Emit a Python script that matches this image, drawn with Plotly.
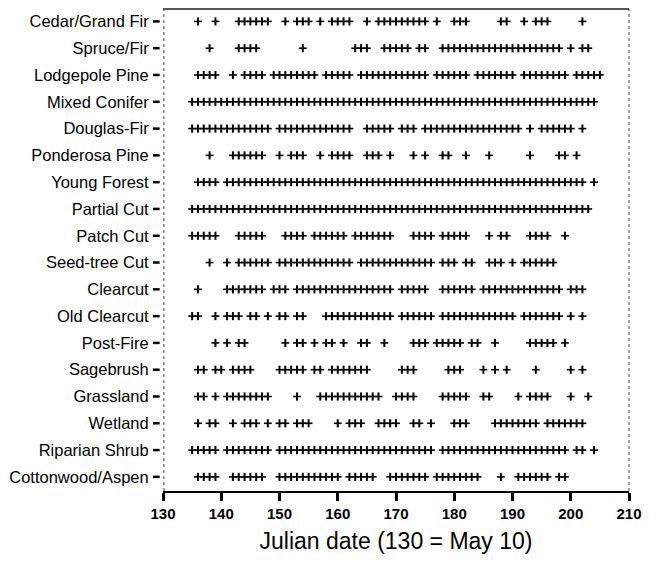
import plotly.graph_objects as go

# Habitat types, top to bottom
habitats = [
    "Cedar/Grand Fir", "Spruce/Fir", "Lodgepole Pine", "Mixed Conifer",
    "Douglas-Fir", "Ponderosa Pine", "Young Forest", "Partial Cut",
    "Patch Cut", "Seed-tree Cut", "Clearcut", "Old Clearcut", "Post-Fire",
    "Sagebrush", "Grassland", "Wetland", "Riparian Shrub", "Cottonwood/Aspen",
]

# Julian dates with records, one list per habitat
cedar_grand_fir = [136, 139, 143, 144, 145, 146, 147, 148, 151, 153, 154, 155, 157, 159, 160, 161, 162,
                   165, 167, 168, 169, 170, 171, 172, 173, 174, 175, 177, 180, 181, 182, 188, 189,
                   192, 194, 195, 196, 202]
spruce_fir = [138, 143, 144, 145, 146, 154, 163, 164, 165, 168, 169, 170, 171, 172, 174, 175,
              178, 179, 180, 181, 182, 183, 184, 185, 186, 187, 188, 189, 190, 191, 192, 193, 194,
              195, 196, 197, 198, 200, 202, 203]
lodgepole_pine = [136, 137, 138, 139, 142, 144, 145, 146, 147, 149, 150, 151, 152, 153, 154, 155, 156,
                  158, 159, 160, 161, 162, 164, 165, 166, 167, 168, 169, 170, 171, 172, 173, 174, 175,
                  177, 178, 179, 180, 181, 182, 184, 185, 186, 187, 188, 189, 190, 192, 193, 194, 195,
                  196, 197, 198, 199, 201, 202, 203, 204, 205]
mixed_conifer = [135, 136, 137, 138, 139, 140, 141, 142, 143, 144, 145, 146, 147, 148, 149, 150, 151,
                 152, 153, 154, 155, 156, 157, 158, 159, 160, 161, 162, 163, 164, 165, 166, 167, 168,
                 169, 170, 171, 172, 173, 174, 175, 176, 177, 178, 179, 180, 181, 182, 183, 184, 185,
                 186, 187, 188, 189, 190, 191, 192, 193, 194, 195, 196, 197, 198, 199, 200, 201, 202,
                 203, 204]
douglas_fir = [135, 136, 137, 138, 139, 140, 141, 142, 143, 144, 145, 146, 147, 148, 150, 151, 152,
               153, 154, 155, 156, 157, 158, 159, 160, 161, 162, 165, 166, 167, 168, 169, 171, 172,
               173, 175, 176, 177, 178, 179, 180, 181, 182, 183, 184, 185, 186, 187, 188, 189, 190,
               191, 193, 195, 196, 197, 198, 199, 200, 202]
ponderosa_pine = [138, 142, 143, 144, 145, 146, 147, 150, 152, 153, 154, 157, 159, 160, 161, 162,
                  165, 166, 167, 169, 173, 175, 178, 179, 182, 186, 193, 198, 199, 201]
young_forest = [136, 137, 138, 139, 141, 142, 143, 144, 145, 146, 147, 148, 149, 150, 151, 152, 153,
                154, 155, 156, 157, 158, 159, 160, 161, 162, 163, 164, 165, 166, 167, 168, 169, 170,
                171, 172, 173, 174, 175, 176, 177, 178, 179, 180, 181, 182, 183, 184, 185, 186, 187,
                188, 189, 190, 191, 192, 193, 194, 195, 196, 197, 198, 199, 200, 201, 202, 204]
partial_cut = [135, 136, 137, 138, 139, 140, 141, 142, 143, 144, 145, 146, 147, 148, 149, 150, 151,
               152, 153, 154, 155, 156, 157, 158, 159, 160, 161, 162, 163, 164, 165, 166, 167, 168,
               169, 170, 171, 172, 173, 174, 175, 176, 177, 178, 179, 180, 181, 182, 183, 184, 185,
               186, 187, 188, 189, 190, 191, 192, 193, 194, 195, 196, 197, 198, 199, 200, 201, 202,
               203]
patch_cut = [135, 136, 137, 138, 139, 143, 144, 145, 146, 147, 151, 152, 153, 154, 156, 157, 158,
             159, 160, 161, 163, 164, 165, 166, 167, 168, 169, 173, 174, 175, 176, 178, 179, 180,
             181, 182, 186, 188, 189, 193, 194, 195, 196, 199]
seed_tree_cut = [138, 141, 143, 144, 145, 146, 147, 148, 150, 151, 152, 153, 154, 155, 156, 157, 158,
                 159, 160, 161, 162, 164, 165, 166, 167, 168, 169, 170, 171, 172, 173, 174, 175, 176,
                 178, 179, 180, 182, 183, 186, 187, 188, 190, 192, 193, 194, 195, 196, 197]
clearcut = [136, 141, 142, 143, 144, 145, 146, 147, 149, 150, 151, 153, 154, 155, 156, 157, 158, 159,
            160, 161, 162, 163, 164, 165, 166, 167, 168, 169, 171, 172, 173, 174, 175, 178, 179, 180,
            181, 182, 183, 185, 186, 187, 188, 189, 190, 191, 192, 193, 194, 195, 196, 197, 198, 200,
            201, 202]
old_clearcut = [135, 136, 139, 141, 142, 143, 145, 146, 148, 150, 151, 153, 154, 158, 159, 160, 161,
                162, 163, 164, 165, 166, 167, 168, 169, 171, 172, 173, 174, 175, 176, 178, 179, 180,
                181, 182, 183, 184, 185, 186, 187, 188, 189, 190, 192, 193, 194, 195, 196, 197, 198,
                200, 202]
post_fire = [139, 141, 143, 144, 151, 153, 154, 156, 158, 159, 161, 164, 165, 168, 173, 174, 175, 177,
             178, 179, 180, 181, 183, 184, 187, 193, 194, 195, 196, 197, 199]
sagebrush = [136, 137, 139, 140, 142, 143, 144, 145, 150, 151, 152, 153, 154, 156, 157, 159, 160, 161,
             162, 163, 164, 165, 171, 172, 173, 179, 180, 181, 185, 187, 189, 194, 200, 202]
grassland = [136, 137, 139, 141, 142, 143, 144, 145, 146, 147, 148, 153, 157, 158, 159, 160, 161, 162,
             163, 164, 165, 166, 167, 170, 171, 172, 173, 178, 179, 180, 181, 182, 185, 186, 191, 193,
             194, 195, 196, 200, 203]
wetland = [136, 138, 139, 142, 144, 145, 146, 148, 150, 151, 153, 154, 155, 160, 162, 163, 164, 167,
           168, 169, 170, 173, 174, 176, 180, 181, 182, 187, 188, 189, 190, 191, 192, 193, 194, 196,
           197, 198, 199, 200, 201, 202]
riparian_shrub = [135, 136, 137, 138, 139, 141, 142, 143, 144, 145, 146, 147, 148, 150, 151, 152, 153,
                  154, 155, 156, 157, 158, 159, 160, 161, 162, 163, 164, 165, 166, 167, 168, 169, 170,
                  171, 172, 173, 174, 175, 176, 178, 179, 180, 181, 182, 183, 184, 185, 186, 187, 188,
                  189, 190, 191, 192, 193, 194, 195, 196, 197, 198, 199, 201, 202, 204]
cottonwood_aspen = [136, 137, 138, 139, 142, 143, 144, 145, 146, 147, 150, 151, 152, 153, 154, 155, 156,
                    157, 158, 159, 160, 162, 163, 164, 165, 166, 169, 170, 171, 172, 173, 174, 175, 177,
                    178, 179, 180, 181, 182, 183, 184, 188, 191, 192, 193, 194, 195, 196, 198, 199]

dates_by_habitat = [
    cedar_grand_fir, spruce_fir, lodgepole_pine, mixed_conifer, douglas_fir, ponderosa_pine,
    young_forest, partial_cut, patch_cut, seed_tree_cut, clearcut, old_clearcut, post_fire,
    sagebrush, grassland, wetland, riparian_shrub, cottonwood_aspen,
]

x_ticks = [130, 140, 150, 160, 170, 180, 190, 200, 210]
x_title = "Julian date (130 = May 10)"

# flatten into point lists; row index is the y coordinate (0 = top row)
xs, ys = [], []
for row, dates in enumerate(dates_by_habitat):
    xs.extend(dates)
    ys.extend([row] * len(dates))

fig = go.Figure()
# each "+" is a vertical bar plus a horizontal bar
fig.add_trace(go.Scatter(
    x=xs, y=ys, mode="markers", hoverinfo="skip", showlegend=False,
    marker=dict(symbol="line-ns", size=5.8, line=dict(color="black", width=2.0)),
))
fig.add_trace(go.Scatter(
    x=xs, y=ys, mode="markers", hoverinfo="skip", showlegend=False,
    marker=dict(symbol="line-ew", size=5.6, line=dict(color="black", width=1.6)),
))

n = len(habitats)
shapes = []
# short tick dashes left of the frame
for row in range(n):
    shapes.append(dict(type="line", xref="paper", yref="y", x0=-0.0215, x1=-0.0072,
                       y0=row, y1=row, line=dict(color="black", width=2.5)))
# frame: solid top, dotted sides
shapes.append(dict(type="line", xref="paper", yref="paper", x0=0, x1=1, y0=1, y1=1,
                   line=dict(color="#222", width=1.5)))
shapes.append(dict(type="line", xref="paper", yref="paper", x0=0.002, x1=0.002, y0=0, y1=1,
                   line=dict(color="#444", width=1, dash="dot")))
shapes.append(dict(type="line", xref="paper", yref="paper", x0=1, x1=1, y0=0, y1=1,
                   line=dict(color="#444", width=1, dash="dot")))

font_family = "Liberation Sans, Arial, Helvetica, sans-serif"

fig.update_layout(
    width=656, height=564,
    margin=dict(l=161, r=27, t=9, b=73),
    paper_bgcolor="white", plot_bgcolor="white",
    font=dict(family=font_family, color="black"),
    shapes=shapes,
    xaxis=dict(
        range=[130, 210], tickvals=x_ticks, ticktext=[str(v) for v in x_ticks],
        showgrid=False, zeroline=False,
        showline=True, linecolor="black", linewidth=2,
        ticks="outside", ticklen=8, tickwidth=2.5, tickcolor="black",
        tickfont=dict(size=15, family=font_family, weight="bold", color="black"),
        title=dict(text=x_title, font=dict(size=23, family=font_family, color="black"),
                   standoff=12),
    ),
    yaxis=dict(
        range=[n - 1 + 0.527, -0.463],
        tickvals=list(range(n)), ticktext=habitats,
        showgrid=False, zeroline=False, showline=False,
        ticks="outside", ticklen=10, tickcolor="rgba(0,0,0,0)",
        tickfont=dict(size=16.5, family=font_family, color="black"),
    ),
)

fig.write_html("out.html")
